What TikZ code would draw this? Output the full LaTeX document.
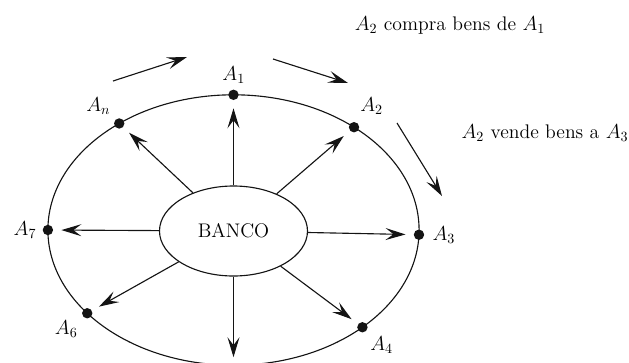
\documentclass[tikz,border=0pt]{standalone}
\usepackage{amsmath, amssymb}
\usepackage{xcolor}
\usepackage{tikz}
\usetikzlibrary{arrows.meta, positioning, calc, shapes.geometric}
\definecolor{InkBlack}{RGB}{20, 20, 20}
\tikzset{
  agent/.style={circle, fill=InkBlack, minimum size=2.6mm, inner sep=0pt, label distance=0.5mm},
  spoke/.style={draw=InkBlack, line width=0.8pt, -{Stealth[length=5mm, width=3mm, inset=2mm]}, shorten >=2mm},
  flow/.style={draw=InkBlack, line width=0.8pt, -{Stealth[length=5mm, width=3mm, inset=2mm]}}
}

\begin{document}
\begin{tikzpicture}[font=\fontsize{14}{17}\selectfont]
  \clip (-5.8375,-3.3) rectangle (9.8875,5.75);
  % circuito dos agentes
  \draw[InkBlack, line width=0.8pt] (0,0) ellipse [x radius=4.64, y radius=3.38];
  \node[
    ellipse,
    draw=InkBlack,
    fill=white,
    line width=0.8pt,
    minimum width=3.7cm,
    minimum height=2.25cm,
    inner sep=0pt
  ] (banco) at (0,-0.025) {BANCO};
  \node[agent, label={[label distance=0.2mm]88:$A_1$}]   (a1) at (90:4.64 and 3.38) {};
  \node[agent, label={[label distance=0.5mm]80:$A_2$}]   (a2) at (49.5:4.64 and 3.38) {};
  \node[agent, label={[label distance=0.8mm]0:$A_3$}]    (a3) at (-2:4.64 and 3.38) {};
  \node[agent, label={[label distance=0mm]-58:$A_4$}]    (a4) at (-46:4.64 and 3.38) {};
  \node[agent, label={[label distance=0mm]-150:$A_6$}]   (a6) at (-142:4.64 and 3.38) {};
  \node[agent, label={[label distance=0.3mm]180:$A_7$}]  (a7) at (180:4.64 and 3.38) {};
  \node[agent, label={[label distance=0mm]135:$A_n$}]    (an) at (128:4.64 and 3.38) {};
  \coordinate (a5) at (-90:4.64 and 3.38);
  % do banco para cada agente
  \foreach \agt in {a1, a2, a3, a4, a5, a6, a7, an}
    \draw[spoke] (banco) -- (\agt);
  % fluxo de bens
  \coordinate (f1s) at (-3.0125,3.725);
  \coordinate (f1e) at (-1.1625,4.325);
  \coordinate (f2s) at (0.9875,4.275);
  \coordinate (f2e) at (2.8625,3.675);
  \coordinate (f3s) at (4.0875,2.675);
  \coordinate (f3e) at (5.2125,0.85);
  \draw[flow] (f1s) -- (f1e);
  \draw[flow] (f2s) -- (f2e);
  \draw[flow] (f3s) -- (f3e);
  \node (compra) at (5.4125,5.125) {$A_2$ compra bens de $A_1$};
  \node (vende) at (7.7875,2.425) {$A_2$ vende bens a $A_3$};
\end{tikzpicture}
\end{document}
